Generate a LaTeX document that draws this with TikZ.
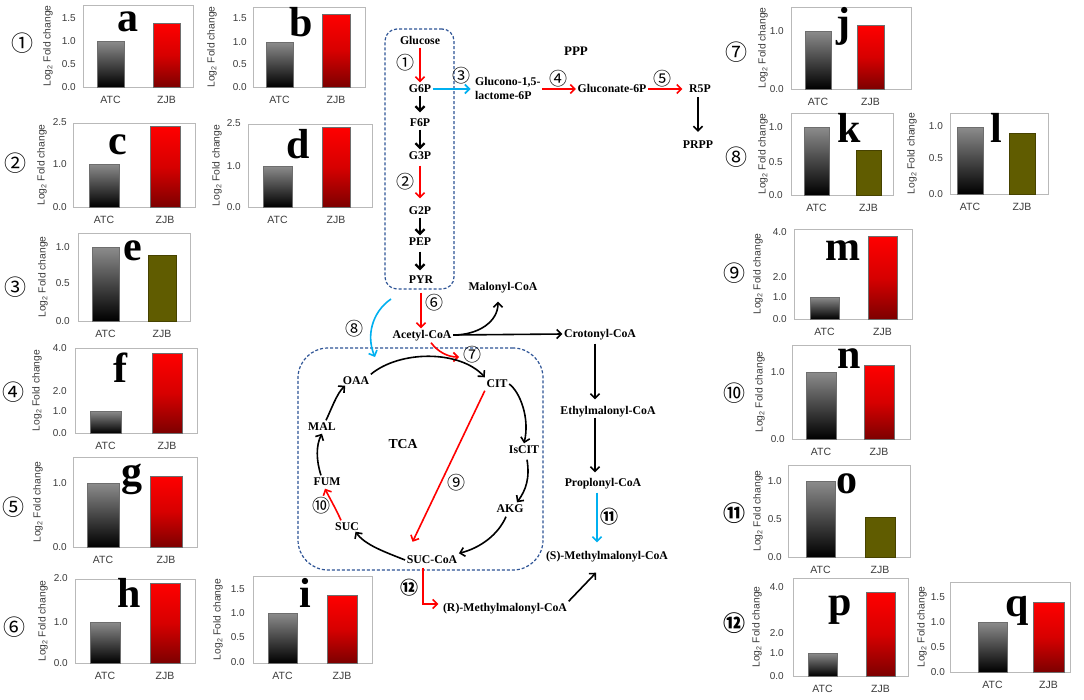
\documentclass[tikz,border=0pt]{standalone}
\usepackage{fontspec}
\setmainfont{Liberation Serif}
\newfontfamily\chartfont{Liberation Sans}
\newfontfamily\cjk{Noto Sans CJK JP}
\usetikzlibrary{arrows.meta,calc}

\definecolor{tcablue}{RGB}{46,84,150}
\definecolor{skyb}{RGB}{0,176,240}
\definecolor{olivebar}{RGB}{96,92,0}
\definecolor{olivedark}{RGB}{70,66,0}
\definecolor{darkredbar}{RGB}{125,0,0}
\definecolor{midredbar}{RGB}{215,0,0}
\definecolor{chgray}{RGB}{60,60,60}
\definecolor{frgray}{RGB}{185,185,185}
\definecolor{atctop}{RGB}{140,140,140}
\definecolor{baredge}{RGB}{110,110,110}

\pgfkeys{/fc/.cd,
  id/.store in=\fcid, l/.store in=\fcl, t/.store in=\fct, r/.store in=\fcr, b/.store in=\fcb,
  yl/.store in=\fcyl, tx/.store in=\fctx, ticks/.store in=\fcticks,
  aa/.store in=\fcaa, ab/.store in=\fcab, at/.store in=\fcat,
  za/.store in=\fcza, zb/.store in=\fczb, zt/.store in=\fczt,
  zc/.code={\tikzset{zbar/.style={#1}}},
  let/.store in=\fclet, lx/.store in=\fclx, ly/.store in=\fcly}

\newcommand\fcchart[1]{%
  \pgfkeys{/fc/.cd,#1}%
  \draw[chframe] (\fcl,\fct) rectangle (\fcr,\fcb);
  \node[ylab] (\fcid-ylab) at (\fcyl,{(\fct+\fcb)/2}) {Log\textsubscript{2} Fold change};
  \foreach \v/\yy [count=\k] in \fcticks {\node[tick] (\fcid-tick\k) at (\fctx,\yy) {\v};}
  \path[atcbar] (\fcaa,\fcat) rectangle (\fcab,\fcb);
  \path[zbar] (\fcza,\fczt) rectangle (\fczb,\fcb);
  \node[xlab] (\fcid-atc) at ({(\fcaa+\fcab)/2},{\fcb+13}) {ATC};
  \node[xlab] (\fcid-zjb) at ({(\fcza+\fczb)/2},{\fcb+13}) {ZJB};
  \node[bigl] (\fcid-letter) at (\fclx,\fcly) {\fclet};
}

\tikzset{
  met/.style={font=\bfseries\fontsize{11.8}{13}\selectfont, inner sep=1.5pt, text height=8pt, text depth=2pt},
  num/.style={font=\cjk\fontsize{18}{18}\selectfont, inner sep=0pt},
  snum/.style={font=\cjk\fontsize{22}{22}\selectfont, inner sep=0pt},
  tick/.style={font=\chartfont\fontsize{10}{11}\selectfont, text=chgray, anchor=east, inner sep=0pt},
  ylab/.style={font=\chartfont\fontsize{10.3}{11}\selectfont, text=chgray, rotate=90, inner sep=0pt},
  xlab/.style={font=\chartfont\fontsize{10.5}{11}\selectfont, text=chgray, inner sep=0pt},
  bigl/.style={font=\bfseries\fontsize{42}{42}\selectfont, inner sep=0pt},
  chframe/.style={draw=frgray, line width=0.8pt},
  atcbar/.style={top color=atctop, bottom color=black, draw=baredge, line width=0.5pt},
  upbar/.style={top color=red, bottom color=darkredbar, middle color=midredbar, draw=baredge, line width=0.5pt},
  downbar/.style={fill=olivebar, draw=olivedark, line width=0.5pt},
  dbox/.style={draw=tcablue, dash pattern=on 3pt off 2pt, line width=1.2pt},
  blk/.style={draw=black, line width=1.6pt, -{Straight Barb[length=4.5pt,width=9pt]}},
  blkg/.style={draw=black, line width=2.3pt, -{Straight Barb[length=4.5pt,width=9pt]}},
  redarr/.style={draw=red, line width=1.6pt, -{Straight Barb[length=4.5pt,width=9pt]}},
  bluarr/.style={draw=skyb, line width=1.6pt, -{Straight Barb[length=4.5pt,width=9pt]}},
}

\begin{document}
\begin{tikzpicture}[x=1pt,y=-1pt]
\useasboundingbox (0,0) rectangle (1084,699);
\fill[white] (0,0) rectangle (1084,699);

% ---------------- charts ----------------
\fcchart{id=a, l=83, t=5, r=193, b=87, yl=48, tx=76, ticks={0.0/87,0.5/64,1.0/41,1.5/18}, aa=97, ab=124, at=41, za=153, zb=180, zt=23, zc=upbar, let=a, lx=128, ly=22}
\fcchart{id=b, l=253, t=7, r=365, b=87, yl=212, tx=247, ticks={0.0/87,0.5/64,1.0/42,1.5/18}, aa=266, ab=293, at=42, za=322, zb=350, zt=14, zc=upbar, let=b, lx=301, ly=22}
\fcchart{id=c, l=73, t=123, r=195, b=207, yl=42, tx=67, ticks={0.0/207,1.0/164,2.5/122}, aa=89, ab=119, at=164, za=150, zb=180, zt=126, zc=upbar, let=c, lx=118, ly=145}
\fcchart{id=d, l=248, t=124, r=372, b=207, yl=217, tx=241, ticks={0.0/207,1.0/166,2.5/123}, aa=263, ab=292, at=166, za=322, zb=350, zt=127, zc=upbar, let=d, lx=298, ly=144}
\fcchart{id=e, l=78, t=233, r=190, b=321, yl=43, tx=70, ticks={0.0/321,0.5/283,1.0/247}, aa=92, ab=119, at=247, za=148, zb=176, zt=255, zc=downbar, let=e, lx=133, ly=251}
\fcchart{id=f, l=75, t=348, r=197, b=433, yl=37, tx=67, ticks={0.0/433,1.0/411,2.0/391,4.0/348}, aa=90, ab=121, at=411, za=152, zb=182, zt=353, zc=upbar, let=f, lx=120, ly=368}
\fcchart{id=g, l=73, t=457, r=197, b=547, yl=38, tx=67, ticks={0.0/547,1.0/483}, aa=87, ab=119, at=483, za=150, zb=182, zt=476, zc=upbar, let=g, lx=132, ly=479}
\fcchart{id=h, l=75, t=579, r=195, b=663, yl=43, tx=68, ticks={0.0/663,1.0/622,2.0/578}, aa=90, ab=120, at=622, za=150, zb=180, zt=583, zc=upbar, let=h, lx=129, ly=593}
\fcchart{id=i, l=253, t=576, r=372, b=663, yl=218, tx=245, ticks={0.0/662,0.5/637,1.0/613,1.5/589}, aa=268, ab=297, at=613, za=327, zb=357, zt=595, zc=upbar, let=i, lx=305, ly=593}
\fcchart{id=j, l=791, t=7, r=911, b=89, yl=763, tx=784, ticks={0.0/89,1.0/31}, aa=805, ab=831, at=31, za=857, zb=884, zt=25, zc=upbar, let=j, lx=843, ly=26}
\fcchart{id=k, l=791, t=113, r=893, b=195, yl=763, tx=783, ticks={0.0/195,0.5/162,1.0/127}, aa=804, ab=829, at=127, za=856, zb=881, zt=150, zc=downbar, let=k, lx=849, ly=128}
\fcchart{id=l, l=950, t=113, r=1048, b=194, yl=912, tx=943, ticks={0.0/194,0.5/158,1.0/126}, aa=957, ab=983, at=127, za=1009, zb=1035, zt=133, zc=downbar, let=l, lx=996, ly=128}
\fcchart{id=m, l=794, t=229, r=912, b=319, yl=758, tx=787, ticks={0.0/319,1.0/297,2.0/277,4.0/232}, aa=810, ab=839, at=297, za=868, zb=897, zt=236, zc=upbar, let=m, lx=843, ly=251}
\fcchart{id=n, l=792, t=345, r=910, b=439, yl=760, tx=785, ticks={0.0/439,1.0/372}, aa=806, ab=836, at=372, za=864, zb=894, zt=365, zc=upbar, let=n, lx=849, ly=359}
\fcchart{id=o, l=788, t=465, r=910, b=557, yl=758, tx=782, ticks={0.0/557,0.5/519,1.0/481}, aa=806, ab=835, at=481, za=865, zb=895, zt=517, zc=downbar, let=o, lx=847, ly=484}
\fcchart{id=p, l=793, t=578, r=908, b=676, yl=757, tx=784, ticks={0.0/676,1.0/653,2.0/633,4.0/587}, aa=808, ab=837, at=653, za=866, zb=895, zt=592, zc=upbar, let=p, lx=840, ly=610}
\fcchart{id=q, l=950, t=582, r=1070, b=672, yl=922, tx=945, ticks={0.0/672,0.5/647,1.0/622,1.5/597}, aa=978, ab=1007, at=622, za=1033, zb=1064, zt=602, zc=upbar, let=q, lx=1017, ly=611}

% side numbers
\node[snum] (s1) at (22,43) {①};
\node[snum] (s2) at (16,163) {②};
\node[snum] (s3) at (16,287) {③};
\node[snum] (s4) at (13,392) {④};
\node[snum] (s5) at (13,507) {⑤};
\node[snum] (s6) at (15,627) {⑥};
\node[snum] (s7) at (736,52) {⑦};
\node[snum] (s8) at (736,157) {⑧};
\node[snum] (s9) at (734,273) {⑨};
\node[snum] (s10) at (734,393) {⑩};
\node[snum, font=\cjk\bfseries\fontsize{22}{22}\selectfont] (s11) at (734,513) {⑪};
\node[snum, font=\cjk\bfseries\fontsize{22}{22}\selectfont] (s12) at (734,623) {⑫};

% ---------------- boxes ----------------
\node[dbox, minimum width=69pt, minimum height=260pt, rounded corners=12pt] (gbox) at (419.5,159) {};
\node[dbox, minimum width=245pt, minimum height=222pt, rounded corners=30pt] (tcabox) at (420.5,459) {};

% ---------------- metabolites ----------------
\node[met] (glc) at (420,41) {Glucose};
\node[met] (g6p) at (420,89) {G6P};
\node[met] (f6p) at (420,123) {F6P};
\node[met] (g3p) at (420,156) {G3P};
\node[met] (g2p) at (420,211) {G2P};
\node[met] (pep) at (420,242) {PEP};
\node[met] (pyr) at (421,280) {PYR};
\node[met] (acoa) at (422,335) {Acetyl-CoA};
\node[met] (malonyl) at (503,287) {Malonyl-CoA};
\node[met] (crot) at (600,334) {Crotonyl-CoA};
\node[met] (ethyl) at (608,411) {Ethylmalonyl-CoA};
\node[met] (prop) at (603,483) {Proplonyl-CoA};
\node[met] (smm) at (607,556) {(S)-Methylmalonyl-CoA};
\node[met] (rmm) at (505,608) {(R)-Methylmalonyl-CoA};
\node[font=\bfseries\fontsize{11.8}{14}\selectfont, align=left, anchor=west, inner sep=1.5pt] (glucono) at (473.5,88) {Glucono-1,5-\\lactome-6P};
\node[met] (gluconate) at (612,89) {Gluconate-6P};
\node[met] (r5p) at (700,89) {R5P};
\node[met] (prpp) at (698,145) {PRPP};
\node[met, font=\bfseries\fontsize{13}{14}\selectfont] (ppp) at (576,52) {PPP};

\node[met] (oaa) at (356,381) {OAA};
\node[met] (cit) at (497,384) {CIT};
\node[met] (iscit) at (524,450) {IsCIT};
\node[met] (akg) at (510,509) {AKG};
\node[met] (sucoa) at (432,560) {SUC-CoA};
\node[met] (suc) at (347,527) {SUC};
\node[met] (fum) at (327,482) {FUM};
\node[met] (mal) at (322,427) {MAL};
\node[met, font=\bfseries\fontsize{13.7}{15}\selectfont] (tca) at (403,445) {TCA};

% pathway numbers
\node[num] (n1) at (405,63) {①};
\node[num] (n2) at (405,182) {②};
\node[num] (n3) at (461,76) {③};
\node[num] (n4) at (558,79) {④};
\node[num] (n5) at (662,79) {⑤};
\node[num] (n6) at (434,303) {⑥};
\node[num] (n7) at (472,355) {⑦};
\node[num] (n8) at (354,329) {⑧};
\node[num] (n9) at (456,483) {⑨};
\node[num] (n10) at (321,506) {⑩};
\node[num, font=\cjk\bfseries\fontsize{18}{18}\selectfont] (n11) at (609,517) {⑪};
\node[num, font=\cjk\bfseries\fontsize{18}{18}\selectfont] (n12) at (409,588) {⑫};

% ---------------- connectors ----------------
\draw[redarr] (glc.south) -- (glc.south |- g6p.north);
\draw[blkg] (g6p.south) -- ($(g6p.south |- f6p.north)+(0,-4)$);
\draw[blkg] (f6p.south) -- (f6p.south |- g3p.north);
\draw[redarr] ($(g3p.south)+(0,3)$) -- ($(g3p.south |- g2p.north)+(0,-6)$);
\draw[blkg] (g2p.south) -- (g2p.south |- pep.north);
\draw[blkg] ($(pep.south)+(0,3)$) -- ($(pep.south |- pyr.north)+(0,-3)$);
\draw[redarr] ($(pyr.south)+(0,6)$) -- (pyr.south |- acoa.north);

\draw[bluarr] (g6p.east) -- ($(glucono.west |- g6p.east)+(-3,0)$);
\draw[redarr] (glucono.east |- gluconate.west) -- (gluconate.west);
\draw[redarr] (gluconate.east) -- ($(r5p.west)+(-5,0)$);
\draw[blk] ($(r5p.south)+(-2,1.5)$) -- ($(r5p.south |- prpp.north)+(-2,-6.5)$);

\draw[blk] (acoa.east) .. controls (478,335) and (498,322) .. ($(malonyl.south)+(-5,8)$);
\draw[blk] (acoa.east) -- (crot.west);
\draw[blk] ($(crot.south)+(-5,3)$) -- ($(crot.south |- ethyl.north)+(-5,-5)$);
\draw[blk] ($(crot.south |- ethyl.south)+(-5,0)$) -- ($(crot.south |- prop.north)+(-5,-4)$);
\draw[bluarr] ($(prop.south)+(-6,3)$) -- ($(prop.south |- smm.north)+(-6,-7)$);
\draw[blk] (rmm.north east) -- ($(smm.south)+(-11,10)$);
\draw[redarr] ($(sucoa.south)+(-9,1)$) |- ($(rmm.west)+(-3,-4)$);

\coordinate (c7) at (459,357);
\draw[redarr] ($(acoa.south)+(9,1)$) .. controls (438,352) and (448,357) .. (c7);
\coordinate (b8s) at (391,299);
\coordinate (b8e) at (375,357);
\draw[bluarr] (b8s) .. controls (372,312) and (366,336) .. (b8e);

\draw[blk] (oaa.north east) .. controls (400,350) and (460,350) .. (cit.north west);
\draw[blk] (cit.east) .. controls (520,392) and (530,418) .. (iscit.north);
\draw[blk] ($(iscit.south)+(3,3)$) .. controls (530,478) and (526,490) .. ($(akg.north)+(7,0)$);
\draw[blk] ($(akg.south)+(-4,1)$) .. controls (498,535) and (480,548) .. (sucoa.north east);
\draw[blk] (sucoa.west) .. controls (385,552) and (365,545) .. ($(suc.south east)+(-5,-2)$);
\draw[redarr] ($(suc.north)+(-6,0)$) .. controls (335,507) and (329,497) .. ($(fum.south)+(-2,0)$);
\draw[blk] ($(fum.north)+(-6,0)$) .. controls (316,460) and (316,445) .. (mal.south);
\draw[blk] ($(mal.north)+(4,0)$) .. controls (331,410) and (337,393) .. ($(oaa.south west)+(4,-2)$);
\draw[redarr] (cit.south west) -- ($(sucoa.north west)+(7.5,-11.5)$);
\end{tikzpicture}
\end{document}
